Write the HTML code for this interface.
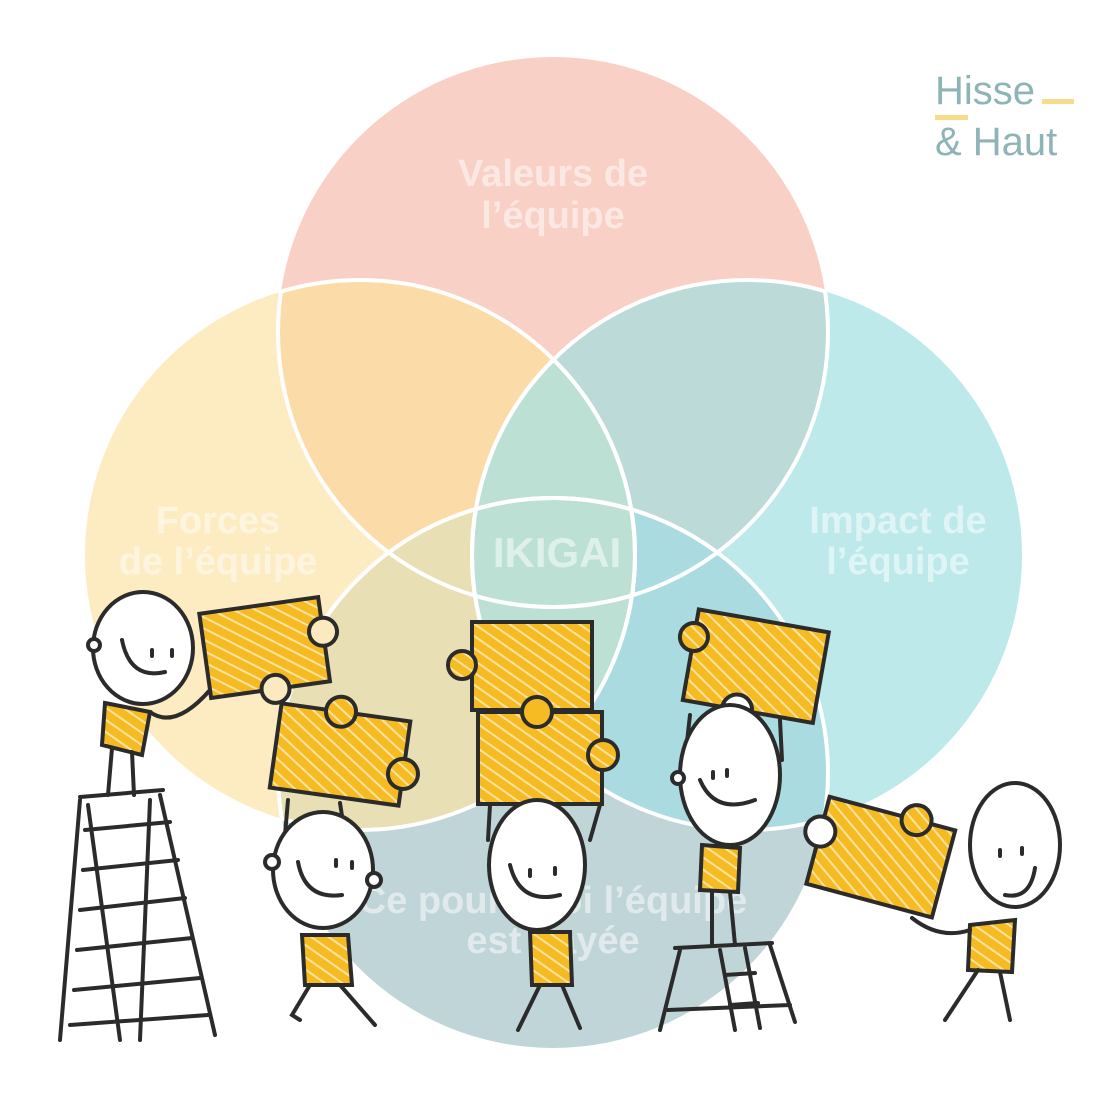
<!DOCTYPE html>
<html><head><meta charset="utf-8"><style>
html,body{margin:0;padding:0;background:#fff;}
svg{display:block}
text{font-family:"Liberation Sans",sans-serif;font-weight:bold;}
</style></head><body>
<svg width="1110" height="1110" viewBox="0 0 1110 1110" xmlns="http://www.w3.org/2000/svg">
<defs>
<clipPath id="cT"><circle cx="553" cy="332" r="275"/></clipPath>
<clipPath id="cL"><circle cx="360" cy="555" r="275"/></clipPath>
<clipPath id="cR"><circle cx="747" cy="555" r="275"/></clipPath>
<clipPath id="cB"><circle cx="553" cy="773" r="275"/></clipPath>
<pattern id="hatch" width="10" height="10" patternUnits="userSpaceOnUse" patternTransform="rotate(-55)">
<rect width="10" height="10" fill="#f6bb22"/><rect width="2" height="10" fill="#fbe3a0"/>
</pattern>
</defs>
<!-- base circles -->
<circle cx="553" cy="773" r="275" fill="#c0d5d8"/>
<circle cx="360" cy="555" r="275" fill="#fdebc2"/>
<circle cx="747" cy="555" r="275" fill="#bde9ea"/>
<circle cx="553" cy="332" r="275" fill="#f8d0c6"/>
<!-- pair intersections -->
<g clip-path="url(#cT)"><circle cx="360" cy="555" r="275" fill="#fbdca9"/></g>
<g clip-path="url(#cT)"><circle cx="747" cy="555" r="275" fill="#bcdad8"/></g>
<g clip-path="url(#cL)"><circle cx="553" cy="773" r="275" fill="#e9dfb4"/></g>
<g clip-path="url(#cR)"><circle cx="553" cy="773" r="275" fill="#a9dbe0"/></g>
<g clip-path="url(#cL)"><circle cx="747" cy="555" r="275" fill="#bde0d5"/></g>
<!-- center -->
<g clip-path="url(#cT)"><g clip-path="url(#cB)"><circle cx="553" cy="555" r="400" fill="#bde0d5"/></g></g>
<g clip-path="url(#cL)"><g clip-path="url(#cB)"><circle cx="360" cy="555" r="275" fill="#e9dfb4"/></g></g>
<g clip-path="url(#cR)"><g clip-path="url(#cB)"><circle cx="747" cy="555" r="275" fill="#a9dbe0"/></g></g>
<g clip-path="url(#cL)"><g clip-path="url(#cR)"><g clip-path="url(#cB)"><circle cx="553" cy="600" r="300" fill="#bde0d5"/></g></g></g>
<g clip-path="url(#cT)"><g clip-path="url(#cL)"><g clip-path="url(#cR)"><circle cx="553" cy="500" r="300" fill="#bde0d5"/></g></g></g>
<!-- white interior strokes -->
<g fill="none" stroke="#fff" stroke-width="4">
<g clip-path="url(#cL)"><circle cx="553" cy="332" r="275"/></g>
<g clip-path="url(#cR)"><circle cx="553" cy="332" r="275"/></g>
<g clip-path="url(#cT)"><circle cx="360" cy="555" r="275"/><circle cx="747" cy="555" r="275"/><circle cx="553" cy="773" r="275"/></g>
<g clip-path="url(#cB)"><circle cx="360" cy="555" r="275"/><circle cx="747" cy="555" r="275"/></g>
<g clip-path="url(#cL)"><circle cx="747" cy="555" r="275"/><circle cx="553" cy="773" r="275"/></g>
<g clip-path="url(#cR)"><circle cx="360" cy="555" r="275"/><circle cx="553" cy="773" r="275"/></g>
</g>
<!-- labels -->
<g fill="#fff" fill-opacity="0.5" font-size="38" text-anchor="middle">
<text x="553" y="186">Valeurs de</text><text x="553" y="228">l’équipe</text>
<text x="218" y="533">Forces</text><text x="218" y="574">de l’équipe</text>
<text x="898" y="533">Impact de</text><text x="898" y="574">l’équipe</text>
<text x="557" y="567" font-size="42">IKIGAI</text>
<text x="553" y="913">Ce pour quoi l’équipe</text><text x="553" y="953">est payée</text>
</g>
<!-- logo -->
<g font-family="Liberation Sans" fill="#8fb4b8">
<text x="935" y="104" font-size="40" style="font-weight:normal">Hisse</text>
<text x="935" y="155" font-size="40" style="font-weight:normal">&amp; Haut</text>
<rect x="1042" y="99" width="32" height="5" fill="#f7dc8c"/>
<rect x="935" y="115" width="33" height="5" fill="#f7dc8c"/>
</g>
<!-- ladder -->
<g stroke="#2b2b2b" stroke-width="4" fill="none" stroke-linecap="round">
<path d="M80 797 L163 790 M80 800 L60 1040 M88 805 L120 1040 M160 795 L215 1035 M150 800 L140 1040"/>
<path d="M85 830 L170 822 M83 870 L178 860 M80 910 L185 898 M77 950 L192 938 M74 990 L200 978 M70 1025 L208 1015"/>
</g>
<!-- stool -->
<g stroke="#2b2b2b" stroke-width="4" fill="none" stroke-linecap="round">
<path d="M675 948 L772 943 M680 950 L660 1030 M770 945 L795 1022 M720 950 L735 1030 M745 948 L760 1028 M725 975 L755 973 M730 1005 L758 1003 M668 1010 L790 1005"/>
</g>
<!-- puzzle pieces -->
<g stroke="#2b2b2b" stroke-width="4" fill="url(#hatch)">
<g transform="rotate(-8 265 650)"><rect x="205" y="605" width="120" height="85"/><circle cx="325" cy="640" r="14" fill="#fde9bf"/><circle cx="270" cy="690" r="14" fill="#fde9bf"/></g>
<g transform="rotate(8 340 755)"><rect x="275" y="712" width="130" height="85"/><circle cx="335" cy="712" r="15"/><circle cx="405" cy="765" r="15"/></g>
<rect x="472" y="622" width="120" height="88"/><circle cx="462" cy="665" r="14"/>
<rect x="478" y="712" width="124" height="92"/><circle cx="537" cy="712" r="15" fill="#f6bb22"/><circle cx="603" cy="755" r="15"/>
<g transform="rotate(10 755 665)"><rect x="690" y="620" width="132" height="92"/><circle cx="690" cy="648" r="14"/><circle cx="745" cy="712" r="15" fill="#fff"/></g>
<g transform="rotate(15 880 860)"><rect x="815" y="812" width="130" height="90"/><circle cx="905" cy="812" r="15"/><circle cx="815" cy="848" r="15" fill="#fff"/></g>
</g>
<!-- figures -->
<g stroke="#2b2b2b" stroke-width="4" stroke-linecap="round">
<!-- 1 -->
<path d="M105 703 L150 712 L142 755 L102 745 Z" fill="url(#hatch)"/>
<path d="M112 748 L108 795 M132 752 L134 795 M150 712 Q175 730 210 690" fill="none"/>
<ellipse cx="143" cy="648" rx="50" ry="56" fill="#fff"/>
<circle cx="94" cy="645" r="6" fill="#fff"/>
<path d="M122 640 Q130 680 165 672" fill="none"/><path d="M152 650 L152 656 M172 650 L172 656"/>
<!-- 2 -->
<path d="M302 935 L348 935 L352 985 L305 985 Z" fill="url(#hatch)"/>
<path d="M310 985 L292 1015 L300 1020 M340 985 L375 1025" fill="none"/>
<path d="M288 800 L285 835 M340 803 L345 835" fill="none"/>
<ellipse cx="323" cy="870" rx="50" ry="58" fill="#fff"/>
<circle cx="272" cy="862" r="7" fill="#fff"/><circle cx="374" cy="880" r="7" fill="#fff"/>
<path d="M298 862 Q305 900 342 895" fill="none"/><path d="M336 860 L336 866 M352 862 L352 868"/>
<!-- 3 -->
<path d="M530 932 L570 932 L572 985 L532 985 Z" fill="url(#hatch)"/>
<path d="M540 985 L518 1030 M562 985 L580 1028 M490 805 L488 840 M600 805 L590 840" fill="none"/>
<ellipse cx="537" cy="865" rx="48" ry="65" fill="#fff"/>
<path d="M510 865 Q520 905 560 895" fill="none"/><path d="M530 870 L530 876 M555 868 L555 874"/>
<!-- 4 -->
<path d="M702 845 L740 848 L738 892 L700 890 Z" fill="url(#hatch)"/>
<path d="M712 892 L712 945 M730 892 L735 945 M690 715 L685 760 M780 720 L782 760" fill="none"/>
<ellipse cx="730" cy="775" rx="50" ry="70" fill="#fff"/>
<circle cx="678" cy="778" r="6" fill="#fff"/>
<path d="M700 780 Q715 815 755 800" fill="none"/><path d="M713 772 L713 778 M727 770 L727 776"/>
<!-- 5 -->
<path d="M970 925 L1015 920 L1012 972 L968 970 Z" fill="url(#hatch)"/>
<path d="M978 970 L945 1020 M1000 972 L1010 1020 M970 930 Q940 940 912 918" fill="none"/>
<ellipse cx="1015" cy="845" rx="45" ry="62" fill="#fff"/>
<path d="M1005 895 Q1030 900 1035 868" fill="none"/><path d="M1000 850 L1000 856 M1022 848 L1022 854"/>
</g>
</svg>
</body></html>
